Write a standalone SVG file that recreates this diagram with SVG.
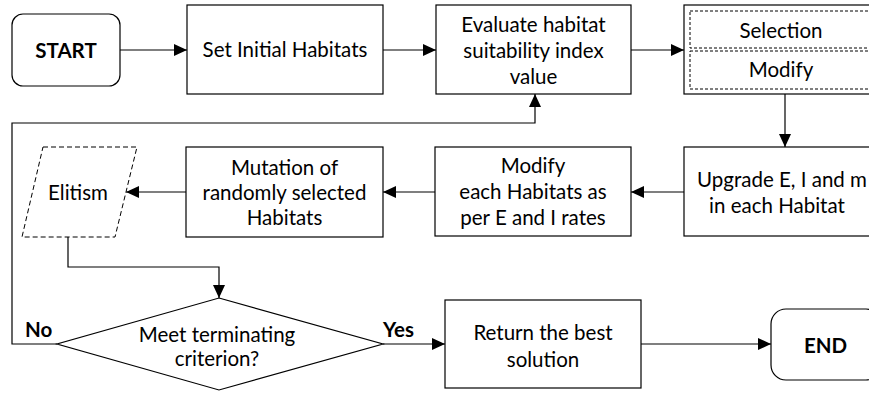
<svg xmlns="http://www.w3.org/2000/svg" width="869" height="395" viewBox="0 0 869 395">
  <defs>
    <marker id="arr" markerUnits="userSpaceOnUse" markerWidth="14" markerHeight="12" refX="13" refY="6" orient="auto">
      <path d="M0,0 L13,6 L0,12 Z" fill="#000"/>
    </marker>
    <style>
      .box { fill: #fff; stroke: #000; stroke-width: 1.2; }
      .dash { fill: none; stroke: #000; stroke-width: 1; stroke-dasharray: 3 2; }
      .dashp { fill: #fff; stroke: #000; stroke-width: 1; stroke-dasharray: 5 3; }
      .t { font-family: Lato, "Open Sans", sans-serif; font-size: 20.5px; fill: #000; text-anchor: middle; }
      .b { font-weight: bold; }
      .conn path { fill: none; stroke: #000; stroke-width: 1.2; }
    </style>
  </defs>
  <rect width="869" height="395" fill="#fff"/>

  <g class="conn">
    <path d="M120,50 H187" marker-end="url(#arr)"/>
    <path d="M383,50 H436" marker-end="url(#arr)"/>
    <path d="M631,50 H684" marker-end="url(#arr)"/>
    <path d="M785,94 V147" marker-end="url(#arr)"/>
    <path d="M684,192 H631" marker-end="url(#arr)"/>
    <path d="M435,192 H383" marker-end="url(#arr)"/>
    <path d="M186,192 H126" marker-end="url(#arr)"/>
    <path d="M68,237 V267 H219 V298" marker-end="url(#arr)"/>
    <path d="M57,344 H12 V123 H535 V94" marker-end="url(#arr)"/>
    <path d="M383,344 H445" marker-end="url(#arr)"/>
    <path d="M641,344 H771" marker-end="url(#arr)"/>
  </g>

  <g id="start">
    <rect class="box" x="12" y="14" width="108" height="72" rx="11"/>
    <text class="t b" x="66" y="58">START</text>
  </g>
  <g id="init">
    <rect class="box" x="187" y="5" width="196" height="89"/>
    <text class="t" x="285" y="57">Set Initial Habitats</text>
  </g>
  <g id="evaluate">
    <rect class="box" x="436" y="5" width="195" height="89"/>
    <text class="t" x="533.5" y="32">Evaluate habitat</text>
    <text class="t" x="533.5" y="58">suitability index</text>
    <text class="t" x="533.5" y="84">value</text>
  </g>
  <g id="selmod">
    <rect class="box" x="684" y="5" width="200" height="89"/>
    <rect class="dash" x="690" y="11" width="190" height="37"/>
    <rect class="dash" x="690" y="51" width="190" height="38"/>
    <text class="t" x="781" y="38">Selection</text>
    <text class="t" x="781" y="77">Modify</text>
  </g>
  <g id="upgrade">
    <rect class="box" x="684" y="147" width="200" height="89"/>
    <text class="t" x="697" y="187" style="text-anchor:start">Upgrade E, I and m</text>
    <text class="t" x="777" y="213">in each Habitat</text>
  </g>
  <g id="modify">
    <rect class="box" x="435" y="147" width="196" height="89"/>
    <text class="t" x="533" y="173">Modify</text>
    <text class="t" x="533" y="199">each Habitats as</text>
    <text class="t" x="533" y="225">per E and I rates</text>
  </g>
  <g id="mutation">
    <rect class="box" x="186" y="147" width="197" height="90"/>
    <text class="t" x="284.5" y="175">Mutation of</text>
    <text class="t" x="284.5" y="200">randomly selected</text>
    <text class="t" x="284.5" y="225">Habitats</text>
  </g>
  <g id="elitism">
    <polygon class="dashp" points="43,147 137,147 115,237 22,237"/>
    <text class="t" x="78" y="200">Elitism</text>
  </g>
  <g id="decision">
    <polygon class="box" points="219,298 383,344 219,390 57,344"/>
    <text class="t" x="217" y="342">Meet terminating</text>
    <text class="t" x="217" y="366">criterion?</text>
  </g>
  <g id="labels">
    <text class="t b" x="25" y="337" style="text-anchor:start">No</text>
    <text class="t b" x="383" y="337" style="text-anchor:start">Yes</text>
  </g>
  <g id="result">
    <rect class="box" x="445" y="300" width="196" height="88"/>
    <text class="t" x="543" y="340">Return the best</text>
    <text class="t" x="543" y="367">solution</text>
  </g>
  <g id="end">
    <rect class="box" x="771" y="309" width="110" height="71" rx="15"/>
    <text class="t b" x="825.5" y="353">END</text>
  </g>
</svg>
